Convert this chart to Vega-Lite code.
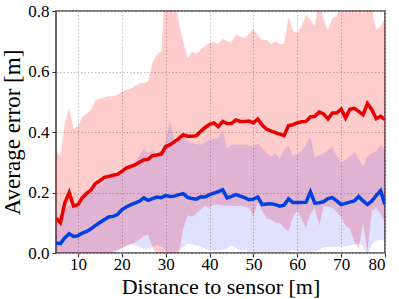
{
  "$schema": "https://vega.github.io/schema/vega-lite/v6.json",
  "width": 329,
  "height": 242,
  "autosize": "none",
  "padding": {"left": 56, "top": 11, "right": 14, "bottom": 46},
  "background": "white",
  "config": {
    "view": {"stroke": "#444444", "strokeWidth": 1.6},
    "font": "Times New Roman",
    "axis": {
      "domain": false,
      "grid": true,
      "gridColor": "#b8b8b8",
      "gridDash": [1.5, 2],
      "gridWidth": 0.9,
      "tickColor": "#333333",
      "tickSize": 4,
      "labelFont": "Times New Roman",
      "labelFontSize": 17,
      "labelColor": "black",
      "titleFont": "Times New Roman",
      "titleFontSize": 23,
      "titleFontWeight": "normal",
      "titleColor": "black"
    }
  },
  "data": {"values": [
    {"d":5,"red":0.115,"rlo":-0.11,"rhi":0.34,"blue":0.033,"blo":-0.034,"bhi":0.10},
    {"d":6,"red":0.10,"rlo":-0.12,"rhi":0.32,"blue":0.031,"blo":-0.038,"bhi":0.10},
    {"d":7,"red":0.165,"rlo":-0.10,"rhi":0.43,"blue":0.05,"blo":-0.04,"bhi":0.14},
    {"d":8,"red":0.20,"rlo":-0.08,"rhi":0.48,"blue":0.064,"blo":-0.032,"bhi":0.16},
    {"d":9,"red":0.155,"rlo":-0.10,"rhi":0.41,"blue":0.055,"blo":-0.04,"bhi":0.15},
    {"d":10,"red":0.16,"rlo":-0.10,"rhi":0.42,"blue":0.057,"blo":-0.041,"bhi":0.155},
    {"d":11,"red":0.183,"rlo":-0.084,"rhi":0.45,"blue":0.066,"blo":-0.043,"bhi":0.175},
    {"d":12,"red":0.197,"rlo":-0.066,"rhi":0.46,"blue":0.071,"blo":-0.048,"bhi":0.19},
    {"d":13,"red":0.209,"rlo":-0.057,"rhi":0.475,"blue":0.08,"blo":-0.04,"bhi":0.20},
    {"d":14,"red":0.23,"rlo":-0.045,"rhi":0.505,"blue":0.091,"blo":-0.033,"bhi":0.215},
    {"d":15,"red":0.239,"rlo":-0.032,"rhi":0.51,"blue":0.101,"blo":-0.023,"bhi":0.225},
    {"d":16,"red":0.25,"rlo":-0.015,"rhi":0.515,"blue":0.11,"blo":-0.015,"bhi":0.235},
    {"d":17,"red":0.253,"rlo":-0.012,"rhi":0.518,"blue":0.119,"blo":-0.007,"bhi":0.245},
    {"d":18,"red":0.257,"rlo":0.005,"rhi":0.518,"blue":0.121,"blo":0.0,"bhi":0.25},
    {"d":19,"red":0.26,"rlo":0.01,"rhi":0.523,"blue":0.127,"blo":0.005,"bhi":0.255},
    {"d":20,"red":0.27,"rlo":0.015,"rhi":0.533,"blue":0.143,"blo":0.02,"bhi":0.265},
    {"d":21,"red":0.281,"rlo":0.022,"rhi":0.54,"blue":0.152,"blo":0.025,"bhi":0.28},
    {"d":22,"red":0.286,"rlo":0.03,"rhi":0.542,"blue":0.159,"blo":0.03,"bhi":0.29},
    {"d":23,"red":0.291,"rlo":0.035,"rhi":0.553,"blue":0.165,"blo":0.025,"bhi":0.30},
    {"d":24,"red":0.30,"rlo":0.045,"rhi":0.56,"blue":0.171,"blo":0.02,"bhi":0.32},
    {"d":25,"red":0.308,"rlo":0.055,"rhi":0.562,"blue":0.182,"blo":0.015,"bhi":0.345},
    {"d":26,"red":0.31,"rlo":0.06,"rhi":0.567,"blue":0.174,"blo":0.015,"bhi":0.33},
    {"d":27,"red":0.322,"rlo":0.02,"rhi":0.63,"blue":0.18,"blo":0.02,"bhi":0.34},
    {"d":28,"red":0.324,"rlo":-0.01,"rhi":0.656,"blue":0.185,"blo":0.025,"bhi":0.33},
    {"d":29,"red":0.327,"rlo":-0.01,"rhi":0.666,"blue":0.183,"blo":0.02,"bhi":0.34},
    {"d":30,"red":0.352,"rlo":-0.2,"rhi":0.90,"blue":0.19,"blo":0.01,"bhi":0.37},
    {"d":31,"red":0.358,"rlo":-0.23,"rhi":0.95,"blue":0.187,"blo":-0.066,"bhi":0.44},
    {"d":32,"red":0.368,"rlo":-0.11,"rhi":0.85,"blue":0.188,"blo":0.0,"bhi":0.37},
    {"d":33,"red":0.378,"rlo":-0.004,"rhi":0.76,"blue":0.193,"blo":0.01,"bhi":0.375},
    {"d":34,"red":0.391,"rlo":0.08,"rhi":0.70,"blue":0.196,"blo":0.02,"bhi":0.385},
    {"d":35,"red":0.386,"rlo":0.125,"rhi":0.645,"blue":0.184,"blo":0.03,"bhi":0.37},
    {"d":36,"red":0.386,"rlo":0.12,"rhi":0.665,"blue":0.18,"blo":0.03,"bhi":0.364},
    {"d":37,"red":0.388,"rlo":0.13,"rhi":0.659,"blue":0.178,"blo":0.025,"bhi":0.36},
    {"d":38,"red":0.402,"rlo":0.145,"rhi":0.672,"blue":0.186,"blo":0.02,"bhi":0.358},
    {"d":39,"red":0.415,"rlo":0.155,"rhi":0.685,"blue":0.185,"blo":0.015,"bhi":0.365},
    {"d":40,"red":0.425,"rlo":0.15,"rhi":0.695,"blue":0.193,"blo":0.01,"bhi":0.375},
    {"d":41,"red":0.43,"rlo":0.16,"rhi":0.697,"blue":0.198,"blo":0.008,"bhi":0.378},
    {"d":42,"red":0.418,"rlo":0.16,"rhi":0.692,"blue":0.203,"blo":0.008,"bhi":0.38},
    {"d":43,"red":0.435,"rlo":0.157,"rhi":0.708,"blue":0.209,"blo":0.01,"bhi":0.405},
    {"d":44,"red":0.428,"rlo":0.155,"rhi":0.70,"blue":0.182,"blo":0.015,"bhi":0.347},
    {"d":45,"red":0.428,"rlo":0.156,"rhi":0.696,"blue":0.187,"blo":0.025,"bhi":0.358},
    {"d":46,"red":0.44,"rlo":0.155,"rhi":0.722,"blue":0.193,"blo":0.015,"bhi":0.358},
    {"d":47,"red":0.435,"rlo":0.155,"rhi":0.715,"blue":0.188,"blo":0.01,"bhi":0.358},
    {"d":48,"red":0.435,"rlo":0.154,"rhi":0.711,"blue":0.183,"blo":0.01,"bhi":0.358},
    {"d":49,"red":0.436,"rlo":0.15,"rhi":0.725,"blue":0.176,"blo":0.005,"bhi":0.355},
    {"d":50,"red":0.43,"rlo":0.12,"rhi":0.74,"blue":0.178,"blo":0.003,"bhi":0.352},
    {"d":51,"red":0.443,"rlo":0.165,"rhi":0.72,"blue":0.185,"blo":0.003,"bhi":0.364},
    {"d":52,"red":0.423,"rlo":0.14,"rhi":0.705,"blue":0.16,"blo":0.003,"bhi":0.347},
    {"d":53,"red":0.41,"rlo":0.115,"rhi":0.705,"blue":0.162,"blo":0.003,"bhi":0.33},
    {"d":54,"red":0.403,"rlo":0.11,"rhi":0.692,"blue":0.163,"blo":0.003,"bhi":0.32},
    {"d":55,"red":0.398,"rlo":0.10,"rhi":0.70,"blue":0.16,"blo":0.003,"bhi":0.33},
    {"d":56,"red":0.393,"rlo":0.099,"rhi":0.69,"blue":0.155,"blo":0.003,"bhi":0.312},
    {"d":57,"red":0.388,"rlo":0.083,"rhi":0.692,"blue":0.158,"blo":0.003,"bhi":0.342},
    {"d":58,"red":0.421,"rlo":0.071,"rhi":0.78,"blue":0.179,"blo":0.005,"bhi":0.355},
    {"d":59,"red":0.424,"rlo":0.12,"rhi":0.735,"blue":0.167,"blo":0.01,"bhi":0.32},
    {"d":60,"red":0.43,"rlo":0.14,"rhi":0.727,"blue":0.167,"blo":0.005,"bhi":0.33},
    {"d":61,"red":0.434,"rlo":0.11,"rhi":0.75,"blue":0.167,"blo":0.003,"bhi":0.336},
    {"d":62,"red":0.435,"rlo":0.085,"rhi":0.788,"blue":0.168,"blo":0.003,"bhi":0.36},
    {"d":63,"red":0.45,"rlo":0.13,"rhi":0.77,"blue":0.202,"blo":0.003,"bhi":0.385},
    {"d":64,"red":0.452,"rlo":0.15,"rhi":0.751,"blue":0.165,"blo":0.005,"bhi":0.314},
    {"d":65,"red":0.466,"rlo":0.09,"rhi":0.84,"blue":0.166,"blo":0.012,"bhi":0.325},
    {"d":66,"red":0.46,"rlo":0.154,"rhi":0.77,"blue":0.17,"blo":0.018,"bhi":0.328},
    {"d":67,"red":0.443,"rlo":0.154,"rhi":0.736,"blue":0.18,"blo":0.02,"bhi":0.34},
    {"d":68,"red":0.463,"rlo":0.15,"rhi":0.777,"blue":0.183,"blo":0.02,"bhi":0.352},
    {"d":69,"red":0.463,"rlo":0.135,"rhi":0.782,"blue":0.172,"blo":0.02,"bhi":0.32},
    {"d":70,"red":0.476,"rlo":0.12,"rhi":0.83,"blue":0.16,"blo":0.02,"bhi":0.30},
    {"d":71,"red":0.447,"rlo":0.09,"rhi":0.82,"blue":0.164,"blo":0.022,"bhi":0.308},
    {"d":72,"red":0.475,"rlo":0.08,"rhi":0.87,"blue":0.168,"blo":0.025,"bhi":0.32},
    {"d":73,"red":0.478,"rlo":0.04,"rhi":0.91,"blue":0.172,"blo":0.028,"bhi":0.333},
    {"d":74,"red":0.468,"rlo":0.015,"rhi":0.92,"blue":0.187,"blo":0.03,"bhi":0.31},
    {"d":75,"red":0.457,"rlo":0.10,"rhi":0.788,"blue":0.172,"blo":0.025,"bhi":0.286},
    {"d":76,"red":0.494,"rlo":0.005,"rhi":0.98,"blue":0.16,"blo":-0.01,"bhi":0.32},
    {"d":77,"red":0.474,"rlo":0.14,"rhi":0.81,"blue":0.172,"blo":0.03,"bhi":0.33},
    {"d":78,"red":0.444,"rlo":0.15,"rhi":0.738,"blue":0.19,"blo":0.04,"bhi":0.336},
    {"d":79,"red":0.452,"rlo":0.13,"rhi":0.749,"blue":0.206,"blo":0.045,"bhi":0.358},
    {"d":80,"red":0.441,"rlo":0.10,"rhi":0.777,"blue":0.16,"blo":0.04,"bhi":0.342}
  ]},
  "encoding": {
    "x": {
      "field": "d", "type": "quantitative",
      "scale": {"domain": [5, 80], "nice": false, "zero": false},
      "axis": {"values": [10, 20, 30, 40, 50, 60, 70, 80], "title": "Distance to sensor [m]", "labelPadding": -1, "titleBaseline": "alphabetic", "titleY": 40, "titleFontSize": 22}
    }
  },
  "layer": [
    {
      "mark": {"type": "area", "color": "#ff0000", "opacity": 0.2, "clip": true},
      "encoding": {
        "y": {"field": "rlo", "type": "quantitative", "scale": {"domain": [0, 0.8], "nice": false},
          "axis": {"values": [0, 0.2, 0.4, 0.6, 0.8], "format": ".1f", "title": "Average error [m]", "labelPadding": 3, "titlePadding": 3}},
        "y2": {"field": "rhi"}
      }
    },
    {
      "mark": {"type": "area", "color": "#0000ff", "opacity": 0.12, "clip": true},
      "encoding": {
        "y": {"field": "blo", "type": "quantitative"},
        "y2": {"field": "bhi"}
      }
    },
    {
      "mark": {"type": "line", "color": "#e80000", "strokeWidth": 3.5, "clip": true},
      "encoding": {"y": {"field": "red", "type": "quantitative"}}
    },
    {
      "mark": {"type": "line", "color": "#0040e0", "strokeWidth": 3.5, "clip": true},
      "encoding": {"y": {"field": "blue", "type": "quantitative"}}
    }
  ]
}
